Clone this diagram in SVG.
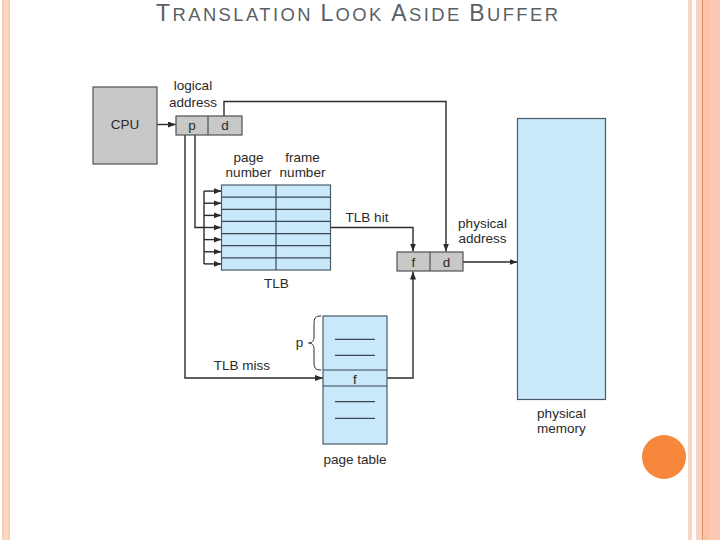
<svg xmlns="http://www.w3.org/2000/svg" width="720" height="540" viewBox="0 0 720 540">
  <defs>
    <marker id="arr" viewBox="0 0 8 6" refX="8" refY="3" markerWidth="8" markerHeight="6" markerUnits="userSpaceOnUse" orient="auto">
      <path d="M0,0 L8,3 L0,6 z" fill="#2b2b2b"/>
    </marker>
    <style>
      .lbl { font-family: "Liberation Sans", Arial, sans-serif; font-size: 13.5px; fill: #2a2a2a; text-anchor: middle; }
      .title { font-family: "Liberation Sans", Arial, sans-serif; fill: #595f66; }
      .blue { fill: #c9e8f9; stroke: #4b5a68; stroke-width: 1.2; }
      .gray { fill: #c8c8c8; stroke: #505050; stroke-width: 1.2; }
      .row { stroke: #3c4650; stroke-width: 1.2; fill: none; }
      .con { stroke: #2b2b2b; stroke-width: 1.4; fill: none; }
      .arw { marker-end: url(#arr); }
    </style>
  </defs>

  <rect x="0" y="0" width="720" height="540" fill="#ffffff"/>

  <!-- slide decorations -->
  <g id="decor">
    <rect x="2" y="0" width="8" height="540" fill="#f9cdb8"/>
    <rect x="4" y="0" width="4" height="540" fill="#fbd9c8"/>
    <rect x="688" y="0" width="4" height="540" fill="#f8d4c4"/>
    <rect x="696" y="0" width="6" height="540" fill="#fad2c2"/>
    <rect x="702" y="0" width="1.2" height="540" fill="#d9936f"/>
    <rect x="703" y="0" width="6" height="540" fill="#fcc2a6"/>
    <rect x="709" y="0" width="11" height="540" fill="#fcc8b6"/>
    <circle cx="664" cy="457" r="22" fill="#f7873a"/>
  </g>

  <!-- title -->
  <text class="title" x="156" y="21" textLength="402" lengthAdjust="spacing"><tspan font-size="23">T</tspan><tspan font-size="18.4">RANSLATION </tspan><tspan font-size="23">L</tspan><tspan font-size="18.4">OOK </tspan><tspan font-size="23">A</tspan><tspan font-size="18.4">SIDE </tspan><tspan font-size="23">B</tspan><tspan font-size="18.4">UFFER</tspan></text>

  <!-- connectors -->
  <g id="connectors">
    <!-- CPU to logical address -->
    <line class="con arw" x1="157" y1="124.5" x2="176" y2="124.5"/>
    <!-- d to physical d -->
    <polyline class="con arw" points="224,116 224,101.5 446,101.5 446,251.5"/>
    <!-- p to TLB bus -->
    <polyline class="con" points="195,135 195,227.5 204,227.5"/>
    <line class="con" x1="204" y1="191" x2="204" y2="264"/>
    <line class="con arw" x1="204" y1="191.1" x2="221.5" y2="191.1"/>
    <line class="con arw" x1="204" y1="203.2" x2="221.5" y2="203.2"/>
    <line class="con arw" x1="204" y1="215.4" x2="221.5" y2="215.4"/>
    <line class="con arw" x1="204" y1="227.5" x2="221.5" y2="227.5"/>
    <line class="con arw" x1="204" y1="239.6" x2="221.5" y2="239.6"/>
    <line class="con arw" x1="204" y1="251.8" x2="221.5" y2="251.8"/>
    <line class="con arw" x1="204" y1="263.9" x2="221.5" y2="263.9"/>
    <!-- TLB hit -->
    <polyline class="con arw" points="331,227.5 413,227.5 413,251.5"/>
    <!-- TLB miss -->
    <polyline class="con arw" points="185,135 185,378 323,378"/>
    <!-- page table f to physical f -->
    <polyline class="con arw" points="387,378 413,378 413,271.5"/>
    <!-- physical address to memory -->
    <line class="con arw" x1="463" y1="262" x2="517.5" y2="262"/>
  </g>

  <g id="cpu">
    <rect class="gray" x="93" y="87" width="64" height="77"/>
    <text class="lbl" x="125" y="128.5">CPU</text>
  </g>

  <g id="logical-address">
    <rect class="gray" x="176" y="116" width="66" height="19"/>
    <line x1="208" y1="116" x2="208" y2="135" stroke="#505050" stroke-width="1.2"/>
    <text class="lbl" x="192" y="130">p</text>
    <text class="lbl" x="225" y="130">d</text>
    <text class="lbl" x="193" y="90">logical</text>
    <text class="lbl" x="193" y="106.5">address</text>
  </g>

  <g id="tlb">
    <rect class="blue" x="221.5" y="185" width="109" height="85"/>
    <line class="row" x1="276" y1="185" x2="276" y2="270"/>
    <line class="row" x1="221.5" y1="197.1" x2="330.5" y2="197.1"/>
    <line class="row" x1="221.5" y1="209.3" x2="330.5" y2="209.3"/>
    <line class="row" x1="221.5" y1="221.4" x2="330.5" y2="221.4"/>
    <line class="row" x1="221.5" y1="233.6" x2="330.5" y2="233.6"/>
    <line class="row" x1="221.5" y1="245.7" x2="330.5" y2="245.7"/>
    <line class="row" x1="221.5" y1="257.9" x2="330.5" y2="257.9"/>
    <text class="lbl" x="248.5" y="161.5">page</text>
    <text class="lbl" x="248.5" y="176.5">number</text>
    <text class="lbl" x="302.5" y="161.5">frame</text>
    <text class="lbl" x="302.5" y="176.5">number</text>
    <text class="lbl" x="276.5" y="288">TLB</text>
    <text class="lbl" x="367" y="221.5">TLB hit</text>
  </g>

  <g id="physical-address">
    <rect class="gray" x="397" y="252" width="66" height="19"/>
    <line x1="430" y1="252" x2="430" y2="271" stroke="#505050" stroke-width="1.2"/>
    <text class="lbl" x="413.5" y="267">f</text>
    <text class="lbl" x="446.5" y="267">d</text>
    <text class="lbl" x="482.5" y="227.5">physical</text>
    <text class="lbl" x="482.5" y="242.5">address</text>
  </g>

  <g id="page-table">
    <rect class="blue" x="323" y="316" width="64" height="128"/>
    <line class="row" x1="323" y1="370" x2="387" y2="370"/>
    <line class="row" x1="323" y1="386" x2="387" y2="386"/>
    <line class="row" x1="335" y1="339.3" x2="375" y2="339.3"/>
    <line class="row" x1="335" y1="355.3" x2="375" y2="355.3"/>
    <line class="row" x1="335" y1="401.7" x2="375" y2="401.7"/>
    <line class="row" x1="335" y1="418.3" x2="375" y2="418.3"/>
    <text class="lbl" x="355" y="383.5">f</text>
    <path d="M321,316 C315,316 314,318 314,325 L314,337 C314,341 312,343 308.5,343 C312,343 314,345 314,349 L314,361 C314,368 315,370 321,370" fill="none" stroke="#2b2b2b" stroke-width="1"/>
    <text class="lbl" x="299.5" y="347">p</text>
    <text class="lbl" x="242" y="369.5">TLB miss</text>
    <text class="lbl" x="355" y="463.5">page table</text>
  </g>

  <g id="physical-memory">
    <rect class="blue" x="517.5" y="118.5" width="88" height="281"/>
    <text class="lbl" x="561.5" y="417.5">physical</text>
    <text class="lbl" x="561.5" y="432.5">memory</text>
  </g>
</svg>
